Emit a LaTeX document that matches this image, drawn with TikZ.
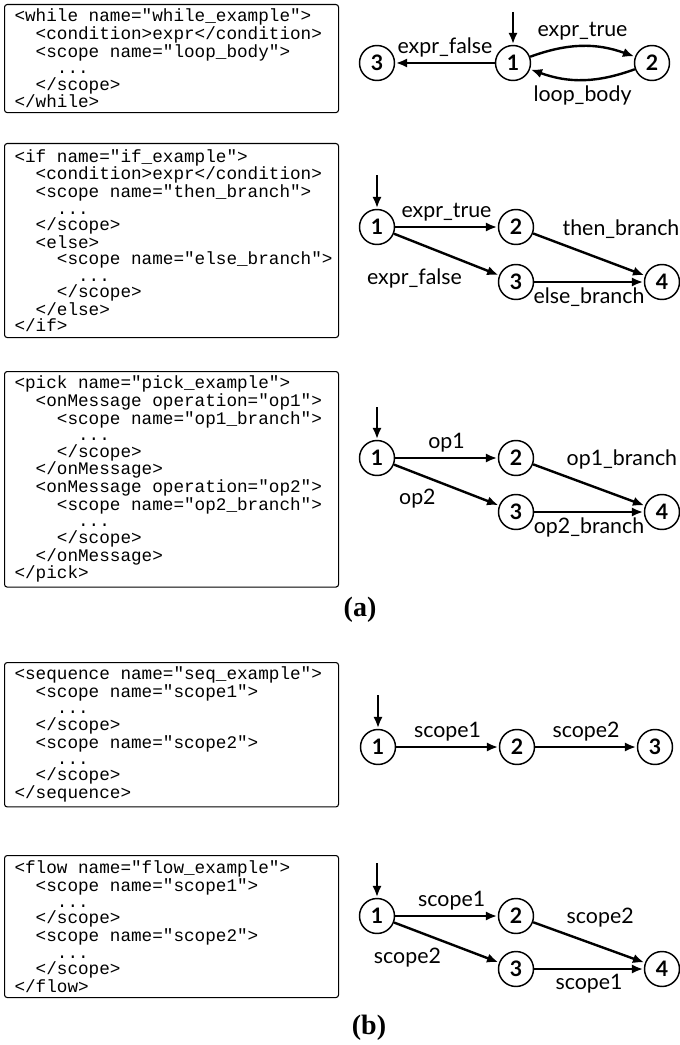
\documentclass[tikz,border=0pt]{standalone}
\usepackage{fontspec}
\setsansfont{Lato}
\setmonofont{Liberation Mono}
\newfontfamily\capfont{Liberation Serif}
\usetikzlibrary{arrows,automata}
\usetikzlibrary{arrows.meta}
\usetikzlibrary{positioning}

\newcommand{\xmlfont}{\ttfamily\fontsize{13.25}{12.3}\selectfont}
\newcommand{\monosp}{\spaceskip=0.6em\relax\xspaceskip=0.6em\relax\hbadness=10000\hfuzz=20pt}
\newcommand{\ind}{\phantom{xx}}

\begin{document}
\begin{tikzpicture}[->,>={Latex[length=8.5pt,width=7pt]},shorten >=0.5pt,x=0.75pt,y=0.75pt,node distance=104.25pt,
		line width=1.8pt,font=\sffamily\fontsize{16}{19}\selectfont]
		\tikzstyle{every state}=[draw,minimum size=26.25pt,inner sep=0pt,line width=1.1pt,
		font=\sffamily\bfseries\fontsize{16}{18}\selectfont]
		\tikzstyle{code}=[draw,rounded corners=2pt,line width=0.8pt,anchor=north west,
		text width=235.5pt,inner xsep=7.5pt,minimum width=250.5pt,align=left,font=\xmlfont]
		\tikzstyle{caption}=[font=\capfont\bfseries\fontsize{21}{24}\selectfont]
		
		\useasboundingbox (0,0) rectangle (680,-1045);
		
		% (a) while
		\node[code,minimum height=81pt] (whilecode) at (4,-4) {\monosp<while name="while\_example">\\
			\ind<condition>expr</condition>\\
			\ind<scope name="loop\_body">\\
			\ind\ind...\\
			\ind</scope>\\
			</while>};
		\node[state]         (w1) at (513,-63)     {1};
		\node[state]         (w2) [right of=w1]    {2};
		\node[state]         (w3) [left of=w1,node distance=102pt] {3};
		\coordinate (w0) at (513,-12);
		\draw (w0) -- (w1);
		\path (w1) edge                node[above]  {expr\_false}  (w3)
		(w1) edge [bend left=20]  node[above]  {expr\_true}   (w2)
		(w2) edge [bend left=20]  node[below]  {loop\_body}   (w1);
		
		% (a) if
		\node[code,minimum height=145.5pt] (ifcode) at (4,-143) {\monosp<if name="if\_example">\\
			\ind<condition>expr</condition>\\
			\ind<scope name="then\_branch">\\
			\ind\ind...\\
			\ind</scope>\\
			\ind<else>\\
			\ind\ind<scope~name="else\_branch">\\
			\ind\ind\ind...\\
			\ind\ind</scope>\\
			\ind</else>\\
			</if>};
		\node[state]         (g1) at (377,-227)    {1};
		\node[state]         (g2) [right of=g1]    {2};
		\node[state]         (g3) [below of=g2,node distance=41.25pt] {3};
		\node[state]         (g4) [right of=g3,node distance=109.5pt] {4};
		\coordinate (g0) at (377,-175);
		\draw (g0) -- (g1);
		\path (g1) edge                node[above]                {expr\_true}    (g2)
		(g1) edge                node[below left,pos=0.7]   {expr\_false}   (g3)
		(g2) edge                node[above right,pos=0.25,xshift=-3pt] {then\_branch}  (g4)
		(g3) edge                node[below]                {else\_branch}  (g4);
		
		% (a) pick
		\node[code,minimum height=155.25pt] (pickcode) at (4,-371) {\monosp<pick name="pick\_example">\\
			\ind<onMessage operation="op1">\\
			\ind\ind<scope name="op1\_branch">\\
			\ind\ind\ind...\\
			\ind\ind</scope>\\
			\ind</onMessage>\\
			\ind<onMessage operation="op2">\\
			\ind\ind<scope name="op2\_branch">\\
			\ind\ind\ind...\\
			\ind\ind</scope>\\
			\ind</onMessage>\\
			</pick>};
		\node[state]         (p1) at (377,-458)    {1};
		\node[state]         (p2) [right of=p1]    {2};
		\node[state]         (p3) [below of=p2,node distance=40.5pt] {3};
		\node[state]         (p4) [right of=p3,node distance=109.5pt] {4};
		\coordinate (p0) at (377,-407);
		\draw (p0) -- (p1);
		\path (p1) edge                node[above]                {op1}          (p2)
		(p1) edge                node[below left,pos=0.45]  {op2}          (p3)
		(p2) edge                node[above right,pos=0.25] {op1\_branch}  (p4)
		(p3) edge                node[below]                {op2\_branch}  (p4);
		
		\node[caption] (capa) at (360,-610) {(a)};
		
		% (b) sequence
		\node[code,minimum height=105.75pt] (seqcode) at (4,-662) {\monosp<sequence name="seq\_example">\\
			\ind<scope name="scope1">\\
			\ind\ind...\\
			\ind</scope>\\
			\ind<scope name="scope2">\\
			\ind\ind...\\
			\ind</scope>\\
			</sequence>};
		\node[state]         (s1) at (378,-747)    {1};
		\node[state]         (s2) [right of=s1]    {2};
		\node[state]         (s3) [right of=s2,node distance=103.5pt] {3};
		\coordinate (s0) at (378,-695);
		\draw (s0) -- (s1);
		\path (s1) edge                node[above]  {scope1}  (s2)
		(s2) edge                node[above]  {scope2}  (s3);
		
		% (b) flow
		\node[code,minimum height=106.5pt] (flowcode) at (4,-855) {\monosp<flow name="flow\_example">\\
			\ind<scope name="scope1">\\
			\ind\ind...\\
			\ind</scope>\\
			\ind<scope name="scope2">\\
			\ind\ind...\\
			\ind</scope>\\
			</flow>};
		\node[state]         (f1) at (377,-916)    {1};
		\node[state]         (f2) [right of=f1]    {2};
		\node[state]         (f3) [below of=f2,node distance=39.75pt] {3};
		\node[state]         (f4) [right of=f3,node distance=109.5pt] {4};
		\coordinate (f0) at (377,-863);
		\draw (f0) -- (f1);
		\path (f1) edge                node[above,pos=0.55]       {scope1}  (f2)
		(f1) edge                node[below left,pos=0.5]   {scope2}  (f3)
		(f2) edge                node[above right,pos=0.25] {scope2}  (f4)
		(f3) edge                node[below]                {scope1}  (f4);
		
		\node[caption] (capb) at (369,-1028) {(b)};
		
		;
		\end{tikzpicture}
\end{document}
